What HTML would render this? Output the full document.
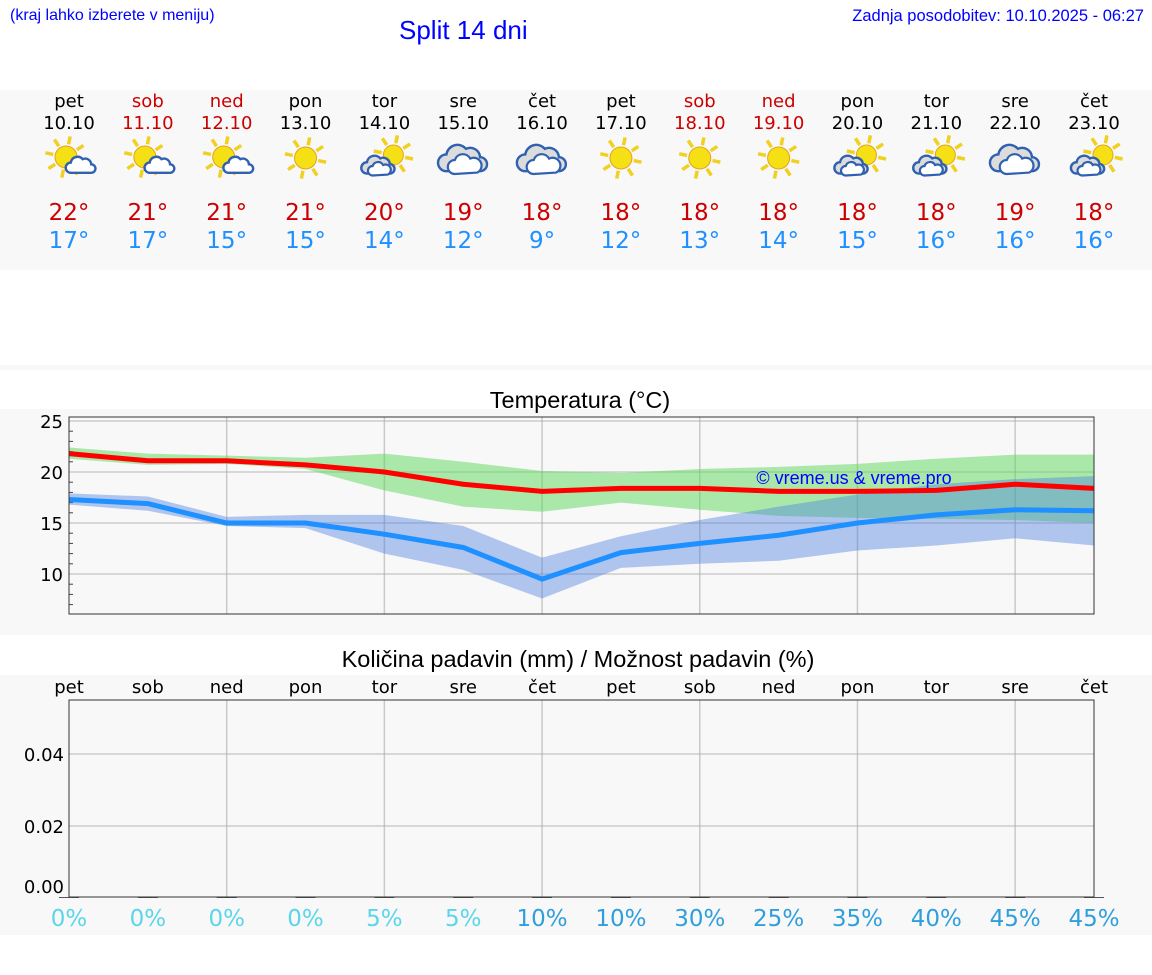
<!DOCTYPE html>
<html><head><meta charset="utf-8">
<style>
body{margin:0;width:1152px;height:975px;background:#fff;font-family:"DejaVu Sans","Liberation Sans",sans-serif;position:relative;overflow:hidden}
.abs{position:absolute}
</style></head>
<body>
<div class="abs" style="left:10px;top:7px;font:16px 'Liberation Sans',sans-serif;color:#00f">(kraj lahko izberete v meniju)</div>
<div class="abs" style="left:399px;top:15px;font:26px 'Liberation Sans',sans-serif;color:#00f">Split 14 dni</div>
<div class="abs" style="right:8px;top:7px;font:16.5px 'Liberation Sans',sans-serif;color:#00f">Zadnja posodobitev: 10.10.2025 - 06:27</div>
<div class="abs" style="left:0;top:90px;width:1152px;height:180px;background:#f8f8f8"></div>
<div class="abs" style="left:0;top:365px;width:1152px;height:5px;background:#f8f8f8"></div>
<div class="abs" style="left:0;top:409px;width:1152px;height:226px;background:#f8f8f8"></div>
<div class="abs" style="left:0;top:675px;width:1152px;height:260px;background:#f8f8f8"></div>
<svg id="svg" class="abs" style="left:0;top:0" width="1152" height="975"></svg>
<script>
const days=["pet","sob","ned","pon","tor","sre","čet","pet","sob","ned","pon","tor","sre","čet"];
const dates=["10.10","11.10","12.10","13.10","14.10","15.10","16.10","17.10","18.10","19.10","20.10","21.10","22.10","23.10"];
const weekend=[0,1,1,0,0,0,0,0,1,1,0,0,0,0];
const icons=["sc","sc","sc","s","cs","c","c","s","s","s","cs","cs","c","cs"];
const maxT=[22,21,21,21,20,19,18,18,18,18,18,18,19,18];
const minT=[17,17,15,15,14,12,9,12,13,14,15,16,16,16];
const maxLine=[21.8,21.1,21.1,20.7,20.0,18.8,18.1,18.4,18.4,18.1,18.1,18.2,18.8,18.4];
const maxHi=[22.4,21.8,21.6,21.4,21.8,21.0,20.1,19.9,20.3,20.5,20.8,21.3,21.7,21.7];
const maxLo=[21.3,20.7,20.8,20.3,18.2,16.6,16.1,17.0,16.3,15.7,15.5,15.4,15.3,15.0];
const minLine=[17.3,16.9,15.0,15.0,13.9,12.6,9.5,12.1,13.0,13.8,15.0,15.8,16.3,16.2];
const minHi=[17.9,17.6,15.6,15.8,15.8,14.7,11.6,13.7,15.3,16.6,17.8,18.8,19.3,19.6];
const minLo=[16.8,16.2,14.7,14.5,12.0,10.4,7.6,10.6,11.0,11.3,12.3,12.8,13.5,12.8];
const tempTicks=[10,15,20,25];
const precip=[0,0,0,0,0,0,0,0,0,0,0,0,0,0];
const precipProb=[0,0,0,0,5,5,10,10,30,25,35,40,45,45];
const precipTicks=[0,0.02,0.04];

const NS="http://www.w3.org/2000/svg";
const svg=document.getElementById('svg');
function el(t,a,p){const e=document.createElementNS(NS,t);for(const k in a)e.setAttribute(k,a[k]);(p||svg).appendChild(e);return e;}
const X0=69,X1=1094;
const xs=i=>X0+i*(X1-X0)/(days.length-1);
const yT=v=>421+(25-v)*10.2;
const yP=v=>898-v/0.02*72;

days.forEach((d,i)=>{
  const x=xs(i);
  let t=el('text',{x:x,y:107,'text-anchor':'middle','font-size':18,fill:weekend[i]?'#c00':'#000'});t.textContent=d;
  
  t=el('text',{x:x,y:129,'text-anchor':'middle','font-size':18,fill:weekend[i]?'#c00':'#000'});t.textContent=dates[i];
  
  const g=el('g',{transform:`translate(${x},158)`});
  
  const sun=(cx,cy,r)=>{for(let k=0;k<8;k++){const a=k*Math.PI/4+0.2;el('line',{x1:cx+Math.cos(a)*(r+2),y1:cy+Math.sin(a)*(r+2),x2:cx+Math.cos(a)*(r+10),y2:cy+Math.sin(a)*(r+10),stroke:'#f0d020','stroke-width':3.5},g);}el('circle',{cx:cx,cy:cy,r:r,fill:'#f5e016',stroke:'#e8a020','stroke-width':1},g);};
  const cloud=(cx,cy,s,grey)=>{const gg=el('g',{transform:`translate(${cx},${cy}) scale(${s})`},g);
    el('path',{d:'M-12,8 a6,6 0 0 1 0,-12 a8,8 0 0 1 14,-4 a7,7 0 0 1 10,6 a5,5 0 0 1 0,10 z',fill:grey?'#dcdcdc':'#fff',stroke:'#3060b0','stroke-width':2.4/s},gg);
    if(grey)el('path',{d:'M-6,10 a5,5 0 0 1 0,-10 a6,6 0 0 1 11,-1 a5,5 0 0 1 5,10 z',fill:'#fff',stroke:'#3060b0','stroke-width':2.2/s},gg);};
  const ic=icons[i];
  if(ic==='s')sun(0,0,11);
  else if(ic==='sc'){sun(-3,-1,11);cloud(12,8,0.85,false);}
  else if(ic==='cs'){sun(9,-3,10);cloud(-6,8,0.95,true);}
  else {cloud(0,2,1.4,true);}
  t=el('text',{x:x,y:220,'text-anchor':'middle','font-size':23,fill:'#c00'});t.textContent=maxT[i]+'°';
  
  t=el('text',{x:x,y:248,'text-anchor':'middle','font-size':23,fill:'#1e90ff'});t.textContent=minT[i]+'°';
  
});

let t=el('text',{x:580,y:408,'text-anchor':'middle','font-size':23.5,'font-family':'Liberation Sans, sans-serif',fill:'#000'});t.textContent='Temperatura (°C)';

const TT=417,TB=614;
el('rect',{x:X0,y:TT,width:X1-X0,height:TB-TT,fill:'#f8f8f8'});
tempTicks.forEach(v=>{el('line',{x1:X0,x2:X1,y1:yT(v),y2:yT(v),stroke:'#ccc','stroke-width':1.5});
  const l=el('text',{x:63,y:yT(v)+7,'text-anchor':'end','font-size':18,fill:'#000'});l.textContent=v;
  });
for(let v=7;v<=24;v++){if(v%5)el('line',{x1:X0,x2:X0+4,y1:yT(v),y2:yT(v),stroke:'#444'});}
for(let i=2;i<days.length;i+=2)el('line',{x1:xs(i),x2:xs(i),y1:TT,y2:TB,stroke:'#aaa','stroke-width':1.5,'stroke-opacity':0.6});
const band=(hi,lo,c,o,n)=>{let d='M'+hi.map((v,i)=>xs(i)+','+yT(v)).join('L')+'L'+lo.map((v,i)=>xs(i)+','+yT(v)).reverse().join('L')+'Z';
  const p=el('path',{d:d,fill:c,'fill-opacity':o});};
band(maxHi,maxLo,'#5cd85c',0.5,'max-temp-range');
band(minHi,minLo,'#4a7fe0',0.42,'min-temp-range');
const line=(a,c,n)=>{const p=el('polyline',{points:a.map((v,i)=>xs(i)+','+yT(v)).join(' '),fill:'none',stroke:c,'stroke-width':5});};
line(maxLine,'#ff0000','max-temp-line');
line(minLine,'#1e90ff','min-temp-line');
t=el('text',{x:854,y:484,'text-anchor':'middle','font-size':18,'font-family':'Liberation Sans, sans-serif',fill:'#00f'});t.textContent='© vreme.us & vreme.pro';

el('rect',{x:X0,y:TT,width:X1-X0,height:TB-TT,fill:'none',stroke:'#333','stroke-width':1});

t=el('text',{x:578,y:667,'text-anchor':'middle','font-size':23.5,'font-family':'Liberation Sans, sans-serif',fill:'#000'});t.textContent='Količina padavin (mm) / Možnost padavin (%)';

const PT=700,PB=897;
days.forEach((d,i)=>{const l=el('text',{x:xs(i),y:693,'text-anchor':'middle','font-size':18,fill:'#000'});l.textContent=d;
  
  const p=el('text',{x:xs(i),y:926,'text-anchor':'middle','font-size':23,fill:precipProb[i]>=10?'#2f9fdc':'#5ad6ea'});p.textContent=precipProb[i]+'%';
  });
precipTicks.forEach(v=>{if(v>0)el('line',{x1:X0,x2:X1,y1:yP(v),y2:yP(v),stroke:'#ccc','stroke-width':1.5});
  const l=el('text',{x:64,y:Math.min(yP(v)+7,893),'text-anchor':'end','font-size':18,fill:'#000'});l.textContent=v.toFixed(2);
  });
for(let i=2;i<days.length;i+=2)el('line',{x1:xs(i),x2:xs(i),y1:PT,y2:PB,stroke:'#aaa','stroke-width':1.5,'stroke-opacity':0.6});
precip.forEach((v,i)=>{const b=el('rect',{x:xs(i)-10,y:yP(v)-1,width:20,height:Math.max(PB-yP(v),0)+1,fill:'#555'});
  });
el('rect',{x:X0,y:PT,width:X1-X0,height:PB-PT,fill:'none',stroke:'#333','stroke-width':1});
</script>
</body></html>
